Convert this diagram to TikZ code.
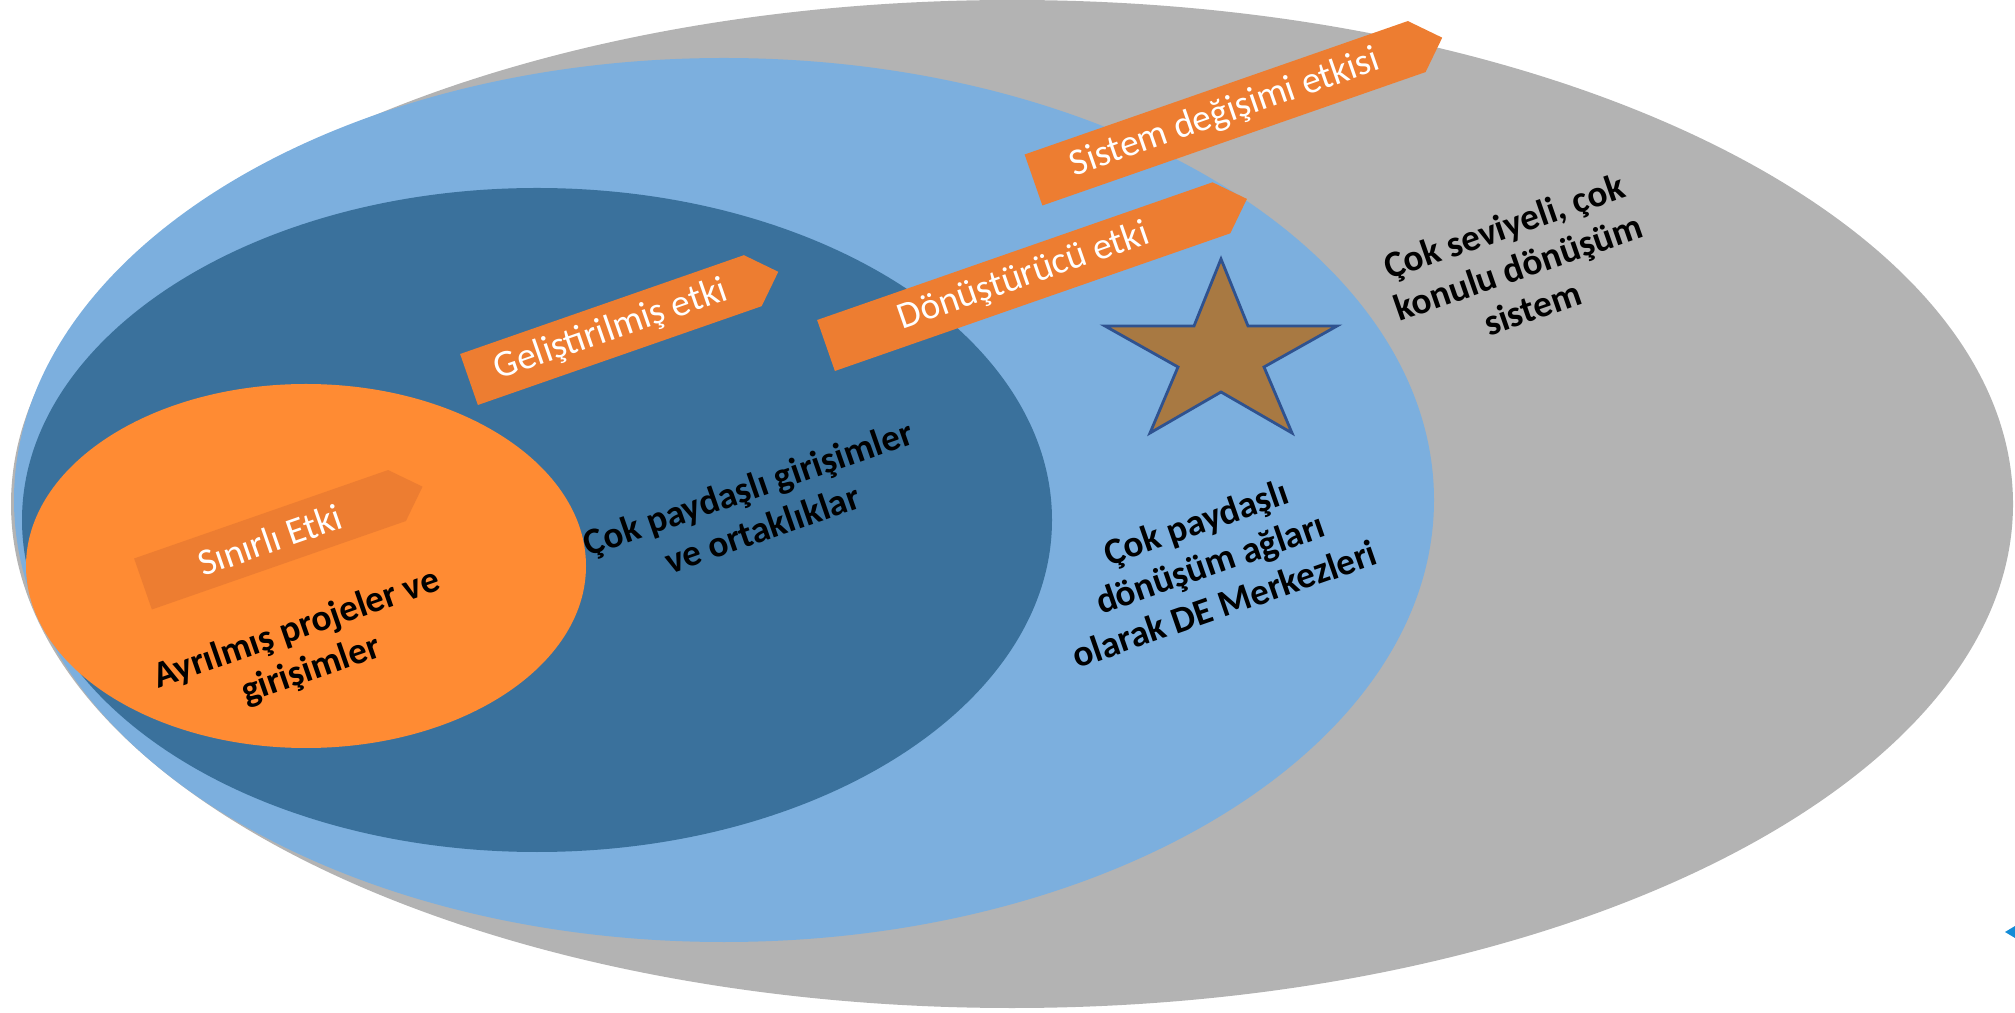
\documentclass[tikz,border=0pt]{standalone}
\usepackage{fontspec}
\setmainfont{Carlito}
\usetikzlibrary{positioning}

\definecolor{systemgray}{RGB}{179,179,179}
\definecolor{hublight}{RGB}{124,175,222}
\definecolor{partnerdark}{RGB}{58,113,156}
\definecolor{projectorange}{RGB}{255,139,51}
\definecolor{impactorange}{RGB}{237,125,49}
\definecolor{starbrown}{RGB}{168,121,66}
\definecolor{staredge}{RGB}{47,82,143}
\definecolor{markblue}{RGB}{20,140,215}

\begin{document}
\begin{tikzpicture}[
            x=0.01cm, y=-0.01cm,
            banner/.style={fill=impactorange},
            bannertext/.style={text=white, inner sep=0pt, font=\fontsize{10.7}{12.8}\selectfont, rotate=19.2},
            level/.style={align=center, inner sep=0pt, font=\bfseries\fontsize{10.6}{12.3}\selectfont, rotate=19.2},
        ]
            \useasboundingbox (0,0) rectangle (2015,1013);

            % Draw the nested levels, outermost first
            \fill[systemgray] (1012,504) ellipse [x radius=1001, y radius=504];
            \fill[hublight] (724,500) ellipse [x radius=710, y radius=442];
            \fill[partnerdark] (537,520) ellipse [x radius=515, y radius=332];
            \fill[projectorange] (306,566) ellipse [x radius=280, y radius=182];

            % Draw the impact banners
            \foreach \name / \x / \y / \len / \txt in {
                    limited/143/584/269/{Sınırlı Etki},
                    enhanced/469/379.5/300.5/{Geliştirilmiş etki},
                    transform/826/345.5/418.7/{Dönüştürücü etki},
                    syschange/1033.5/180/405.8/{Sistem değişimi etkisi}}
            {
                \begin{scope}[shift={(\x,\y)}, rotate=19.2]
                    \fill[banner] (0,-27) -- (\len,-27) -- (\len+27,0) -- (\len,27) -- (0,27) -- cycle;
                    \node[bannertext] (\name) at (\len/2,0) {\txt};
                \end{scope}
            }

            % Draw the star
            \draw[fill=starbrown, draw=staredge, line width=0.8pt] (1221,259) -- (1248,326) -- (1337,326) -- (1264,367) -- (1292,433)
                -- (1221,392) -- (1150,433) -- (1178,367) -- (1105,326) -- (1194,326) -- cycle;

            % Draw the level labels
            \node[level] (isolated) at (304,650) {Ayrılmış projeler ve\\girişimler};
            \node[level] (partners) at (755,508) {Çok paydaşlı girişimler\\ve ortaklıklar};
            \node[level] (hubs) at (1210,563) {Çok paydaşlı\\dönüşüm ağları\\olarak DE Merkezleri};
            \node[level] (system) at (1518,267) {Çok seviyeli, çok\\konulu dönüşüm\\sistem};

            % small mark at the right edge
            \fill[markblue] (2005,932) -- (2015,926) -- (2015,938) -- cycle;
        \end{tikzpicture}
\end{document}
